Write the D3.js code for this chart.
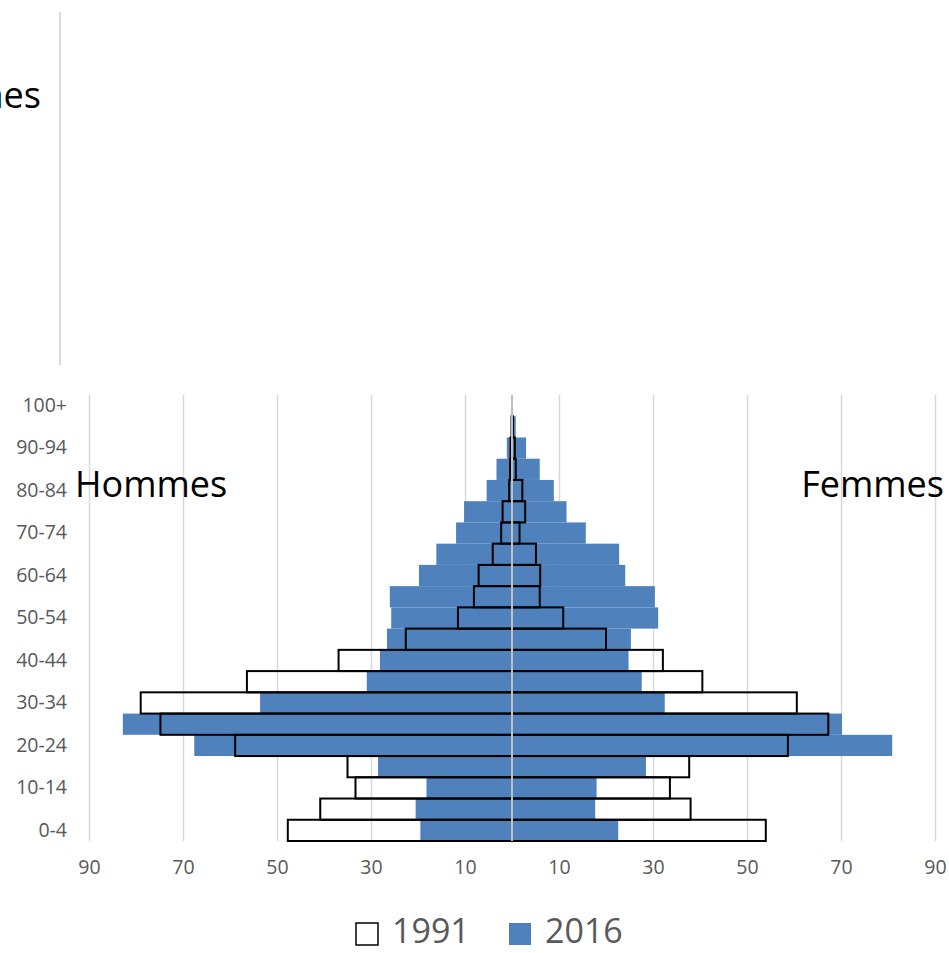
<!DOCTYPE html>
<html>
<head>
<meta charset="utf-8">
<script src="https://cdn.jsdelivr.net/npm/d3@7"></script>
<style>
  body { margin: 0; background: #fff; }
  svg { font-family: "Open Sans", sans-serif; }
</style>
</head>
<body>
<svg id="chart" width="949" height="953"></svg>
<script>
// age groups, bottom to top
const ages = ["0-4", "5-9", "10-14", "15-19", "20-24", "25-29", "30-34", "35-39",
  "40-44", "45-49", "50-54", "55-59", "60-64", "65-69", "70-74", "75-79",
  "80-84", "85-89", "90-94", "95-99", "100+"];

// 2016 (blue bars)
const men2016 = [19.5, 20.5, 18.2, 28.5, 67.6, 82.8, 53.6, 30.9, 28.1, 26.6, 25.7,
  26.0, 19.8, 16.1, 11.9, 10.2, 5.4, 3.3, 1.1, 0.2, 0];
const women2016 = [22.6, 17.7, 18.0, 28.5, 80.9, 70.2, 32.5, 27.6, 24.8, 25.3, 31.1,
  30.4, 24.1, 22.8, 15.7, 11.6, 8.9, 5.9, 3.0, 0.8, 0];

// 1991 (outlined bars)
const men1991 = [47.7, 40.8, 33.3, 35.0, 58.9, 74.8, 79.0, 56.4, 36.9, 22.6, 11.5,
  8.1, 7.1, 4.1, 2.3, 2.0, 0.6, 0.4, 0.3, 0.1, 0];
const women1991 = [54.0, 38.0, 33.6, 37.7, 58.7, 67.3, 60.6, 40.5, 32.1, 20.0, 10.9,
  5.9, 6.0, 5.1, 1.6, 2.8, 2.2, 0.8, 0.6, 0.2, 0];

const xTicks = [-90, -70, -50, -30, -10, 10, 30, 50, 70, 90];
const legendItems = ["1991", "2016"];
const blue = "#4f81bd";

let svg = d3.select("#chart");

// leftover piece of another chart at the top
svg.append("line")
  .attr("x1", 60).attr("x2", 60).attr("y1", 12).attr("y2", 365)
  .attr("stroke", "#d9d9d9").attr("stroke-width", 2);
svg.append("text")
  .attr("x", 41).attr("y", 108)
  .attr("text-anchor", "end")
  .style("font-size", "36px")
  .text("Hommes");

// scales
let x = d3.scaleLinear().domain([-90, 90]).range([89, 935]);
let y = d3.scaleBand().domain(ages.slice().reverse()).range([395, 841]).padding(0);

// gridlines
svg.append("g")
  .attr("transform", "translate(0,841)")
  .call(d3.axisBottom(x).tickValues(xTicks).tickSize(-446).tickFormat(""))
  .call(g => g.select(".domain").remove())
  .call(g => g.selectAll("line").attr("stroke", "#d9d9d9").attr("stroke-width", 1.5));

// 2016 bars
let rows = ages.map((a, i) => ({
  age: a, m16: men2016[i], w16: women2016[i], m91: men1991[i], w91: women1991[i]
}));

svg.append("g").selectAll("rect")
  .data(rows).enter().append("rect")
  .attr("x", d => x(-d.m16))
  .attr("y", d => y(d.age))
  .attr("width", d => x(0) - x(-d.m16))
  .attr("height", y.bandwidth())
  .attr("fill", blue);

svg.append("g").selectAll("rect")
  .data(rows).enter().append("rect")
  .attr("x", x(0))
  .attr("y", d => y(d.age))
  .attr("width", d => x(d.w16) - x(0))
  .attr("height", y.bandwidth())
  .attr("fill", blue);

// 1991 bars: outline only
let outline = rows.filter(d => d.m91 + d.w91 > 0);
svg.append("g").selectAll("rect")
  .data(outline).enter().append("rect")
  .attr("x", d => x(-d.m91))
  .attr("y", d => y(d.age))
  .attr("width", d => x(0) - x(-d.m91))
  .attr("height", y.bandwidth())
  .attr("fill", "none")
  .attr("stroke", "#000")
  .attr("stroke-width", 2);
svg.append("g").selectAll("rect")
  .data(outline).enter().append("rect")
  .attr("x", x(0))
  .attr("y", d => y(d.age))
  .attr("width", d => x(d.w91) - x(0))
  .attr("height", y.bandwidth())
  .attr("fill", "none")
  .attr("stroke", "#000")
  .attr("stroke-width", 2);

// vertical axis at zero
svg.append("line")
  .attr("x1", x(0)).attr("x2", x(0)).attr("y1", 395).attr("y2", 841)
  .attr("stroke", "#bfbfbf").attr("stroke-width", 2);

// x axis labels
svg.append("g")
  .attr("transform", "translate(0,841)")
  .call(d3.axisBottom(x).tickValues(xTicks).tickSize(0).tickPadding(19)
    .tickFormat(d => Math.abs(d)))
  .call(g => g.select(".domain").remove())
  .call(g => g.selectAll("text").attr("fill", "#595959")
    .style("font-size", "19.5px").style("font-family", "'Open Sans', sans-serif"));

// y axis labels
svg.append("g")
  .attr("transform", "translate(67,0)")
  .call(d3.axisLeft(y).tickValues(ages.filter((d, i) => i % 2 == 0)).tickSize(0).tickPadding(0))
  .call(g => g.select(".domain").remove())
  .call(g => g.selectAll("text").attr("fill", "#595959")
    .style("font-size", "19.5px").style("font-family", "'Open Sans', sans-serif"));

// side titles
svg.append("text").attr("x", 75).attr("y", 497)
  .style("font-size", "36px").text("Hommes");
svg.append("text").attr("x", 944).attr("y", 497).attr("text-anchor", "end")
  .style("font-size", "36px").text("Femmes");

// legend
let legend = svg.append("g");
legendItems.forEach((name, i) => {
  let lx = 355 + i * 153;
  legend.append("rect")
    .attr("x", lx + 1).attr("y", 923).attr("width", 22).attr("height", 22)
    .attr("fill", i == 0 ? "#fff" : blue)
    .attr("stroke", i == 0 ? "#000" : "none")
    .attr("stroke-width", 1.5);
  legend.append("text")
    .attr("x", lx + 37).attr("y", 943)
    .attr("fill", "#595959")
    .style("font-size", "34px")
    .text(name);
});
</script>
</body>
</html>
